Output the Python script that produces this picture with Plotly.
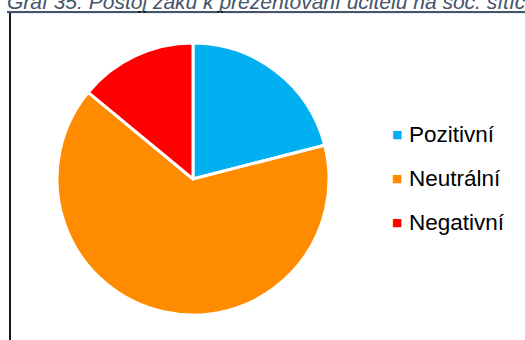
import plotly.graph_objects as go

# Survey answers (share of respondents, %)
labels = ["Pozitivní", "Neutrální", "Negativní"]
values = [21, 65, 14]
colors = ["#00B0F0", "#FF8C00", "#FF0000"]

title_text = "Graf 35: Postoj žáků k prezentování učitelů na soc. sítích"

W, H = 525, 340

fig = go.Figure()

fig.add_trace(go.Pie(
    labels=labels,
    values=values,
    sort=False,
    direction="clockwise",
    rotation=0,
    textinfo="none",
    hoverinfo="label+percent",
    marker=dict(colors=colors, line=dict(color="white", width=3)),
    domain=dict(x=[57 / W, 329 / W], y=[(H - 315) / H, (H - 43) / H]),
    showlegend=False,
))

# Chart frame
fig.add_shape(
    type="rect", xref="paper", yref="paper",
    x0=10 / W, x1=1.05, y0=-0.05, y1=(H - 12) / H,
    line=dict(color="#1a1a1a", width=2),
    fillcolor="rgba(0,0,0,0)", layer="below",
)

# Caption above the frame
fig.add_annotation(
    text="<i><u>" + title_text + "</u></i>",
    xref="paper", yref="paper",
    x=5 / W, y=(H - 1.5) / H, xanchor="left", yanchor="middle",
    showarrow=False,
    font=dict(family="Liberation Sans, Arial", size=21, color="#44546A"),
)

# Legend drawn beside the pie
legend_top = (H - 134) / H
legend_step = 44 / H
for i, (lab, col) in enumerate(zip(labels, colors)):
    yy = legend_top - i * legend_step
    fig.add_annotation(
        text="■", xref="paper", yref="paper",
        x=397 / W, y=yy, xanchor="center", yanchor="middle",
        showarrow=False,
        font=dict(family="DejaVu Sans", size=11, color=col),
    )
    fig.add_annotation(
        text=lab, xref="paper", yref="paper",
        x=407 / W, y=yy, xanchor="left", yanchor="middle",
        showarrow=False,
        font=dict(family="Liberation Sans, Arial", size=22.5, color="#000000"),
    )

fig.update_layout(
    width=W, height=H,
    margin=dict(l=0, r=0, t=0, b=0),
    paper_bgcolor="white",
    plot_bgcolor="white",
    showlegend=False,
)

fig.write_html("out.html")
